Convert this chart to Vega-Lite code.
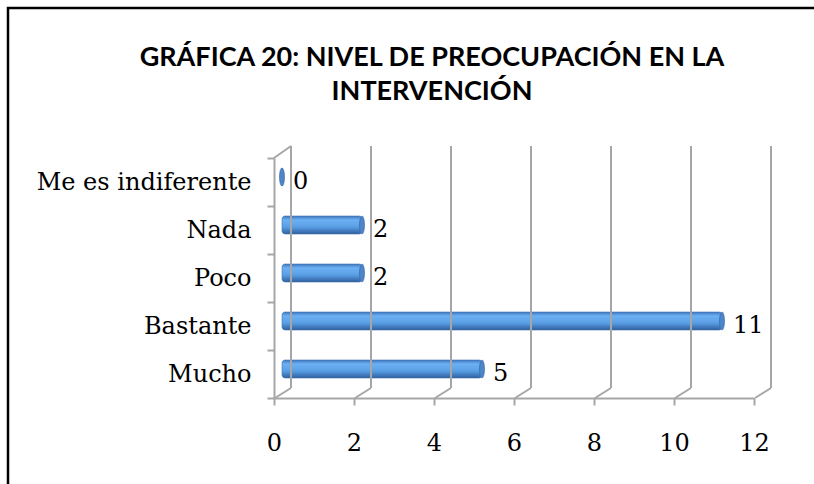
{
  "$schema": "https://vega.github.io/schema/vega-lite/v6.json",
  "width": 808,
  "height": 478,
  "autosize": {"type": "none"},
  "padding": {"left": 8, "top": 8, "right": 0, "bottom": 0},
  "background": "white",
  "config": {"view": {"stroke": "black", "strokeWidth": 2.5}, "font": "DejaVu Serif"},
  "title": {
    "text": ["GRÁFICA 20: NIVEL DE PREOCUPACIÓN EN LA", "INTERVENCIÓN"],
    "font": "Lato",
    "fontWeight": "bold",
    "fontSize": 27,
    "color": "black",
    "anchor": "middle",
    "baseline": "top",
    "lineHeight": 34,
    "offset": -110,
    "dx": 20
  },
  "datasets": {
    "main": [
      {"cat": "Me es indiferente", "n": 0},
      {"cat": "Nada", "n": 2},
      {"cat": "Poco", "n": 2},
      {"cat": "Bastante", "n": 11},
      {"cat": "Mucho", "n": 5}
    ],
    "grid": [{"v": 0}, {"v": 2}, {"v": 4}, {"v": 6}, {"v": 8}, {"v": 10}, {"v": 12}]
  },
  "layer": [
    {
      "data": {"name": "main"},
      "mark": {
        "type": "bar",
        "height": 18,
        "yOffset": -5,
        "xOffset": 8,
        "x2Offset": 8,
        "cornerRadius": 3,
        "stroke": "#3f73b0",
        "strokeWidth": 0.6,
        "fill": {
          "gradient": "linear", "x1": 0, "y1": 0, "x2": 0, "y2": 1,
          "stops": [
            {"offset": 0, "color": "#3e76bd"},
            {"offset": 0.22, "color": "#6cb0f2"},
            {"offset": 0.6, "color": "#5b9fe6"},
            {"offset": 1, "color": "#2f609e"}
          ]
        }
      },
      "encoding": {
        "x": {
          "field": "n", "type": "quantitative", "stack": null,
          "scale": {"domain": [0, 12], "range": [266, 746]},
          "axis": {
            "title": null, "offset": -88, "values": [0, 2, 4, 6, 8, 10, 12], "format": "d",
            "labelFlush": false, "labelOverlap": false,
            "grid": false, "domainColor": "#a6a6a6", "domainWidth": 2,
            "tickColor": "#a6a6a6", "tickWidth": 2, "tickSize": 7,
            "labelFont": "DejaVu Serif", "labelFontSize": 24, "labelColor": "black", "labelPadding": 26
          }
        },
        "x2": {"datum": 0},
        "y": {
          "field": "cat", "type": "nominal",
          "scale": {"domain": ["Me es indiferente", "Nada", "Poco", "Bastante", "Mucho"], "range": [150, 390], "paddingInner": 0, "paddingOuter": 0},
          "axis": {
            "title": null, "offset": -266, "tickBand": "extent", "labelLimit": 400,
            "domainColor": "#a6a6a6", "domainWidth": 2,
            "tickColor": "#a6a6a6", "tickWidth": 2, "tickSize": 7,
            "labelFont": "DejaVu Serif", "labelFontSize": 24, "labelColor": "black", "labelPadding": 16
          }
        }
      }
    },
    {
      "data": {"name": "grid"},
      "mark": {"type": "rule", "color": "#a6a6a6", "strokeWidth": 2, "xOffset": 17, "yOffset": -36, "y2Offset": 14},
      "encoding": {
        "x": {"field": "v", "type": "quantitative", "axis": {"title": null, "format": "d"}},
        "y": {"datum": "Me es indiferente", "type": "nominal", "axis": {"title": null}},
        "y2": {"datum": "Mucho"}
      }
    },
    {
      "data": {"name": "grid"},
      "mark": {"type": "rule", "color": "#a6a6a6", "strokeWidth": 2, "xOffset": 1, "x2Offset": 17, "yOffset": 24, "y2Offset": 14},
      "encoding": {
        "x": {"field": "v", "type": "quantitative", "axis": {"title": null, "format": "d"}},
        "x2": {"field": "v"},
        "y": {"datum": "Mucho", "type": "nominal", "axis": {"title": null}},
        "y2": {"datum": "Mucho"}
      }
    },
    {
      "data": {"values": [{"v": 0}]},
      "mark": {"type": "rule", "color": "#a6a6a6", "strokeWidth": 2, "xOffset": 0, "x2Offset": 17, "yOffset": -24, "y2Offset": -36},
      "encoding": {
        "x": {"field": "v", "type": "quantitative", "axis": {"title": null, "format": "d"}},
        "x2": {"field": "v"},
        "y": {"datum": "Me es indiferente", "type": "nominal", "axis": {"title": null}},
        "y2": {"datum": "Me es indiferente"}
      }
    },
    {
      "data": {"name": "main"},
      "mark": {
        "type": "point",
        "shape": "M0,-1A0.28,1,0,1,1,0,1A0.28,1,0,1,1,0,-1Z",
        "size": 324,
        "filled": true,
        "opacity": 1,
        "fill": "#4d86c8",
        "stroke": "#36679f",
        "strokeWidth": 0.6,
        "xOffset": 8,
        "yOffset": -5
      },
      "encoding": {
        "x": {"field": "n", "type": "quantitative", "axis": {"title": null, "format": "d"}},
        "y": {"field": "cat", "type": "nominal", "axis": {"title": null}}
      }
    },
    {
      "data": {"name": "main"},
      "mark": {"type": "text", "align": "left", "baseline": "middle", "xOffset": 8, "dx": 11, "fontSize": 24, "font": "DejaVu Serif", "color": "black"},
      "encoding": {
        "x": {"field": "n", "type": "quantitative", "axis": {"title": null, "format": "d"}},
        "y": {"field": "cat", "type": "nominal", "axis": {"title": null}},
        "text": {"field": "n", "type": "quantitative", "format": "d"}
      }
    }
  ]
}
